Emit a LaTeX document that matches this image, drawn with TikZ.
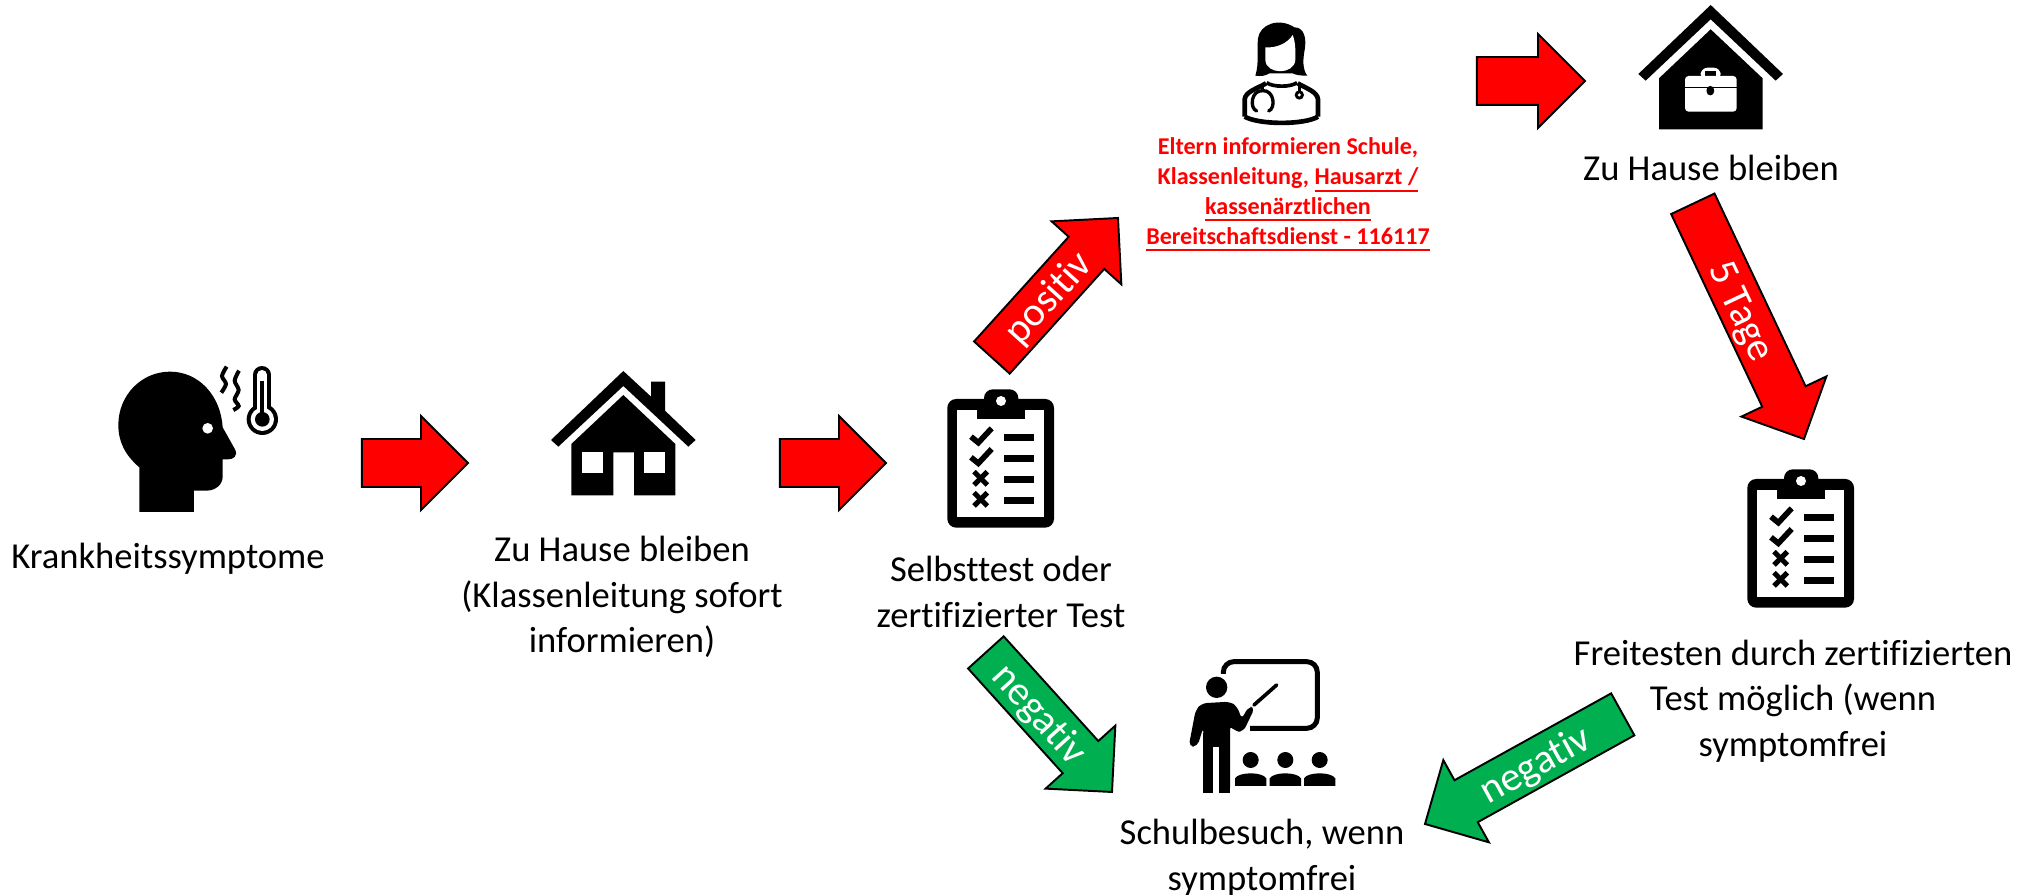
\documentclass[tikz,border=0pt]{standalone}
\usepackage{fontspec}
\setmainfont{Carlito}[Ligatures=NoCommon]
\usepackage{tikz}
\usetikzlibrary{shapes,arrows,positioning}

\definecolor{arrowred}{RGB}{255,0,0}
\definecolor{arrowgreen}{RGB}{0,176,80}

\tikzset{
    zw/.style={line width=#1*0.00333cm},
    caption/.style={align=center, inner sep=0pt, font=\fontsize{10.4}{12.95}\selectfont},
    redcaption/.style={align=center, inner sep=0pt, text=arrowred, font=\fontsize{6.85}{8.55}\selectfont\bfseries},
    fatarrow/.style={single arrow, draw=black, line width=0.55pt, inner sep=0pt, outer sep=0pt,
        single arrow head extend=0.23cm, text height=0.37cm, text depth=0.09cm, anchor=tip,
        text=white, font=\fontsize{11.6}{13.1}\selectfont},
    headicon/.pic={
        \begin{scope}[scale=1/3]
            \fill (118,486) -- (118,352) .. controls (75,315) and (55,275) .. (55,225)
                .. controls (55,135) and (125,65) .. (210,65)
                .. controls (295,65) and (362,135) .. (368,232) -- (405,298)
                .. controls (415,318) and (400,328) .. (385,328) -- (368,328) -- (368,380)
                .. controls (368,405) and (345,422) .. (320,422) -- (282,422) -- (282,486) -- cycle;
            \fill[white] (323,235) circle[radius=16];
            \draw[zw=12] plot[smooth] coordinates {(380,50) (366,78) (378,102) (364,128)};
            \draw[zw=12] plot[smooth] coordinates {(417,62) (404,92) (416,120) (404,148) (416,168) (400,180)};
            \draw[zw=52, line cap=round] (486,74) -- (486,190);
            \fill (487,208) circle[radius=47];
            \draw[zw=28, line cap=round, white] (486,74) -- (486,190);
            \fill[white] (487,208) circle[radius=35];
            \fill (487,208) circle[radius=22];
            \draw[zw=12] (487,92) -- (487,195);
        \end{scope}
    },
    houseicon/.pic={
        \begin{scope}[scale=1/3]
            \fill (33,240) -- (250,33) -- (333,110) -- (333,65) -- (375,65) -- (375,152)
                -- (467,240) -- (445,260) -- (250,78) -- (55,260) -- cycle;
            \fill (94,252) -- (250,105) -- (406,252) -- (406,406) -- (282,406) -- (282,277)
                -- (220,277) -- (220,406) -- (94,406) -- cycle;
            \fill[white] (125,277) rectangle (188,340);
            \fill[white] (313,277) rectangle (375,340);
        \end{scope}
    },
    officeicon/.pic={
        \begin{scope}[scale=1/3]
            \fill (25,222) -- (242,15) -- (459,222) -- (437,242) -- (242,58) -- (47,242) -- cycle;
            \fill (87,235) -- (242,88) -- (398,235) -- (398,388) -- (87,388) -- cycle;
            \fill[white, rounded corners=2pt] (212,240) -- (212,203) -- (272,203) -- (272,240) -- cycle;
            \fill (225,213) rectangle (258,230);
            \fill[white, rounded corners=1pt] (165,228) rectangle (320,335);
            \draw[zw=4] (165,262) -- (320,262);
            \fill[rounded corners=1pt] (230,258) rectangle (252,286);
        \end{scope}
    },
    clipboardicon/.pic={
        \begin{scope}[scale=1/3]
            \fill[rounded corners=2.5pt] (22,57) rectangle (342,443);
            \fill[white] (52,90) rectangle (312,412);
            \fill[rounded corners=2.5pt] (132,28) rectangle (235,90);
            \fill (110,75) rectangle (255,118);
            \fill[white] (183,63) circle[radius=15];
            \foreach \ytop in {170,232} {
                \draw[zw=17] (93,\ytop) -- (115,\ytop+18) -- (155,\ytop-25);
            }
            \foreach \ymid in {295,358} {
                \draw[zw=15] (102,\ymid-20) -- (142,\ymid+20);
                \draw[zw=15] (102,\ymid+20) -- (142,\ymid-20);
            }
            \foreach \ybar in {162,225,288,350} {
                \fill (193,\ybar) rectangle (281,\ybar+21);
            }
        \end{scope}
    },
    teachericon/.pic={
        \begin{scope}[scale=1/3]
            \draw[zw=15, rounded corners=3pt] (130,72) -- (130,35) -- (412,35) -- (412,235) -- (210,235);
            \fill (110,112) circle[radius=32];
            \fill[rounded corners=1.5pt] (70,428) -- (70,232) -- (52,290) -- (26,290) -- (47,180)
                -- (65,160) -- (150,155) -- (172,170) -- (185,208) -- (205,170) -- (225,172)
                -- (190,245) -- (165,245) -- (150,225) -- (150,428) -- cycle;
            \fill (70,428) rectangle (100,250);
            \fill (118,428) rectangle (150,250);
            \fill[white] (100,430) rectangle (118,290);
            \draw[zw=11, line cap=round] (222,165) -- (290,105);
            \foreach \xmid in {212,316,419} {
                \fill (\xmid,330) circle[radius=24];
                \fill (\xmid-47,408) -- (\xmid-47,385) .. controls (\xmid-35,365) and (\xmid+35,365) .. (\xmid+47,385)
                    -- (\xmid+47,408) -- cycle;
            }
        \end{scope}
    },
    doctoricon/.pic={
        \begin{scope}[scale=1/3]
            \fill (58,197) .. controls (70,160) and (62,120) .. (66,85) .. controls (72,42) and (130,22) .. (175,52)
                .. controls (205,52) and (212,85) .. (206,120) .. controls (200,150) and (200,180) .. (214,197)
                .. controls (190,197) and (180,195) .. (170,190) -- (100,190) .. controls (90,197) and (75,200) .. (58,197) -- cycle;
            \fill[white] (88,112) .. controls (120,115) and (155,100) .. (170,75) .. controls (180,100) and (178,130) .. (178,150)
                .. controls (175,195) and (90,195) .. (88,150) -- cycle;
            \draw[zw=14] (26,320) -- (26,268) .. controls (28,245) and (65,235) .. (90,220);
            \draw[zw=14] (246,320) -- (246,268) .. controls (244,245) and (210,235) .. (185,220);
            \draw[zw=14] (26,320) .. controls (70,345) and (205,345) .. (246,320);
            \draw[zw=11] (92,218) .. controls (110,232) and (165,232) .. (183,218);
            \draw[zw=10] (80,222) -- (80,242);
            \draw[zw=10, line cap=round] (62,303) .. controls (40,295) and (45,240) .. (80,242)
                .. controls (115,240) and (120,295) .. (98,303);
            \draw[zw=10] (190,222) -- (190,245);
            \fill (190,255) circle[radius=14];
            \fill[white] (190,255) circle[radius=5];
        \end{scope}
    },
}

\begin{document}
\begin{tikzpicture}[x=0.01cm, y=-0.01cm]
    \useasboundingbox (0,0) rectangle (2029,895);

    % icons
    \pic at (100,350) {headicon};
    \pic at (540,360) {houseicon};
    \pic at (940,380) {clipboardicon};
    \pic at (1236,10) {doctoricon};
    \pic at (1630,0) {officeicon};
    \pic at (1740,460) {clipboardicon};
    \pic at (1180,650) {teachericon};

    % texts
    \node[caption] (symptoms) at (168,559) {Krankheitssymptome};
    \node[caption] (home) at (622,597) {Zu Hause bleiben \\ (Klassenleitung sofort \\ informieren)};
    \node[caption] (selftest) at (1001,592) {Selbsttest oder \\ zertifizierter Test};
    \node[redcaption] (parents) at (1288,195) {Eltern informieren Schule, \\ Klassenleitung, \underline{Hausarzt /} \\ \underline{kassenärztlichen} \\ \underline{Bereitschaftsdienst - 116117}};
    \node[caption] (quarantine) at (1711,168) {Zu Hause bleiben};
    \node[caption] (freetest) at (1793,701) {Freitesten durch zertifizierten \\ Test möglich (wenn \\ symptomfrei};
    \node[caption] (school) at (1262,858) {Schulbesuch, wenn \\ symptomfrei};

    % arrows
    \node[fatarrow, fill=arrowred, minimum height=1.06cm] (symptoms2home) at (468,463) {};
    \node[fatarrow, fill=arrowred, minimum height=1.06cm] (home2test) at (886,463) {};
    \node[fatarrow, fill=arrowred, minimum height=1.08cm] (parents2quarantine) at (1585,81) {};
    \node[fatarrow, fill=arrowred, minimum height=1.88cm, rotate=47.9] (test2parents) at (1118,218) {positiv};
    \node[fatarrow, fill=arrowred, minimum height=2.6cm, rotate=-64.7] (quarantine2freetest) at (1804,439) {5 Tage};
    \node[fatarrow, fill=arrowgreen, minimum height=1.88cm, rotate=-47.9] (test2school) at (1112,792) {negativ};
    \node[fatarrow, fill=arrowgreen, minimum height=2.26cm, rotate=29, shape border rotate=180] (freetest2school) at (1425,824) {negativ};
\end{tikzpicture}
\end{document}
